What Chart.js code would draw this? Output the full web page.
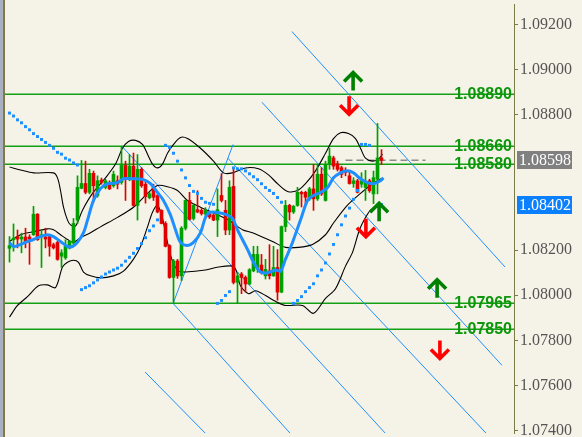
<!DOCTYPE html>
<html>
<head>
<meta charset="utf-8">
<script src="https://cdn.jsdelivr.net/npm/chart.js@4.4.1/dist/chart.umd.min.js"></script>
<style>
  html, body { margin: 0; padding: 0; background: #f5f3e7; }
  #wrap { width: 582px; height: 437px; }
</style>
</head>
<body>
<div id="wrap"><canvas id="chart" width="582" height="437"></canvas></div>
<script>
// candles, one per slot
const opens = [1.08208,1.08246,1.08260,1.08249,1.08258,1.08258,1.08268,1.08359,1.08260,1.08258,1.08260,1.08224,1.08234,1.08173,1.08166,1.08210,1.08231,1.08333,1.08474,1.08495,
  1.08456,1.08540,1.08442,1.08510,1.08478,1.08500,1.08485,1.08507,1.08500,1.08575,1.08514,1.08572,1.08398,1.08558,1.08492,1.08432,1.08478,1.08442,1.08376,1.08318,
  1.08220,1.08079,1.08152,1.08086,1.08297,1.08420,1.08340,1.08379,1.08376,1.08359,1.08362,1.08355,1.08333,1.08442,1.08376,1.08289,1.08482,1.08057,1.08094,1.08079,
  1.08050,1.08108,1.08123,1.08134,1.08086,1.08108,1.08086,1.08123,1.08014,1.08304,1.08398,1.08369,1.08398,1.08456,1.08456,1.08427,1.08471,1.08427,1.08536,1.08420,
  1.08579,1.08608,1.08582,1.08565,1.08553,1.08529,1.08495,1.08507,1.08492,1.08478,1.08507,1.08449,1.08514,1.08608]
const highs = [1.08260,1.08316,1.08289,1.08275,1.08297,1.08268,1.08394,1.08362,1.08289,1.08297,1.08268,1.08231,1.08239,1.08202,1.08246,1.08242,1.08340,1.08529,1.08597,1.08594,
  1.08558,1.08550,1.08529,1.08519,1.08514,1.08507,1.08550,1.08529,1.08659,1.08594,1.08623,1.08630,1.08623,1.08565,1.08507,1.08456,1.08492,1.08446,1.08379,1.08326,
  1.08224,1.08159,1.08159,1.08304,1.08423,1.08456,1.08405,1.08463,1.08384,1.08388,1.08369,1.08362,1.08471,1.08539,1.08420,1.08507,1.08558,1.08101,1.08101,1.08086,
  1.08118,1.08217,1.08217,1.08181,1.08159,1.08224,1.08217,1.08202,1.08307,1.08420,1.08403,1.08398,1.08478,1.08461,1.08461,1.08478,1.08579,1.08579,1.08565,1.08594,
  1.08652,1.08616,1.08594,1.08572,1.08565,1.08550,1.08521,1.08514,1.08543,1.08553,1.08514,1.08550,1.08761,1.08645]
const lows = [1.08147,1.08195,1.08210,1.08188,1.08210,1.08137,1.08265,1.08243,1.08123,1.08210,1.08173,1.08205,1.08155,1.08123,1.08159,1.08205,1.08224,1.08318,1.08471,1.08449,
  1.08449,1.08413,1.08434,1.08492,1.08471,1.08468,1.08478,1.08471,1.08492,1.08420,1.08507,1.08394,1.08333,1.08478,1.08408,1.08427,1.08420,1.08365,1.08316,1.08214,
  1.08075,1.07965,1.08075,1.08065,1.08289,1.08333,1.08333,1.08365,1.08355,1.08347,1.08340,1.08330,1.08260,1.08413,1.08268,1.08268,1.08050,1.07963,1.08007,1.08014,
  1.08046,1.08104,1.08101,1.08094,1.08072,1.08072,1.08084,1.07978,1.08011,1.08282,1.08333,1.08362,1.08394,1.08391,1.08405,1.08420,1.08376,1.08420,1.08442,1.08417,
  1.08558,1.08558,1.08550,1.08521,1.08529,1.08492,1.08478,1.08453,1.08478,1.08420,1.08456,1.08406,1.08449,1.08579]
const closes = [1.08220,1.08253,1.08249,1.08258,1.08239,1.08249,1.08359,1.08246,1.08268,1.08249,1.08217,1.08210,1.08159,1.08188,1.08217,1.08239,1.08318,1.08478,1.08495,1.08456,
  1.08540,1.08485,1.08507,1.08500,1.08507,1.08471,1.08536,1.08492,1.08575,1.08521,1.08572,1.08398,1.08558,1.08485,1.08437,1.08449,1.08434,1.08369,1.08318,1.08217,
  1.08079,1.08152,1.08086,1.08297,1.08420,1.08336,1.08398,1.08369,1.08362,1.08376,1.08347,1.08333,1.08379,1.08420,1.08289,1.08478,1.08057,1.08086,1.08079,1.08050,
  1.08113,1.08181,1.08181,1.08101,1.08115,1.08086,1.08123,1.08014,1.08304,1.08398,1.08369,1.08394,1.08456,1.08449,1.08434,1.08471,1.08427,1.08536,1.08449,1.08579,
  1.08616,1.08572,1.08558,1.08536,1.08543,1.08495,1.08507,1.08456,1.08507,1.08500,1.08463,1.08521,1.08608,1.08598]

// parabolic SAR, null where no dot
const sar = [1.08807,1.08794,1.08777,1.08764,1.08747,1.08733,1.08716,1.08703,1.08690,1.08677,1.08664,1.08651,1.08633,1.08625,1.08607,1.08599,1.08586,1.08577,
  1.08025,1.08034,1.08042,1.08055,1.08068,1.08081,1.08094,1.08103,1.08112,1.08120,1.08133,1.08151,1.08168,1.08186,1.08207,1.08229,1.08255,1.08286,1.08307,1.08334,
  null,
  1.08664,1.08655,1.08629,1.08594,1.08555,1.08520,1.08486,1.08460,1.08451,1.08429,1.08412,1.08407,1.08403,
  1.07964,1.07977,1.07999,1.08016,
  1.08564,1.08560,1.08560,1.08551,1.08538,1.08525,1.08512,1.08494,1.08477,1.08464,1.08451,1.08433,1.08412,
  null,null,
  1.07964,1.07977,1.07994,1.08016,1.08034,1.08051,1.08086,1.08112,1.08143,1.08183,1.08225,1.08268,1.08312,1.08351,1.08386,1.08425,1.08464,
  1.08668,1.08668,1.08664,
  null,
  1.08394,1.08402]

// bollinger bands and moving average, [slot, price]
const bbUpper = [[0,1.08568],[2.75,1.08555],[6,1.08542],[11,1.08542],[12,1.08520],[12.75,1.08464],[13.5,1.08390],[14.5,1.08333],[15.25,1.08312],[16.5,1.08307],
  [17.25,1.08333],[18.25,1.08377],[20.75,1.08451],[24,1.08520],[26.5,1.08581],[28.25,1.08651],[29.75,1.08681],[31.5,1.08686],[33.25,1.08668],[34.5,1.08625],
  [35.75,1.08581],[37,1.08564],[38.25,1.08581],[39.5,1.08629],[41,1.08668],[42.75,1.08699],[44.5,1.08694],[47.75,1.08651],[51,1.08594],[53.5,1.08542],
  [55.75,1.08542],[59,1.08564],[62.25,1.08560],[64.75,1.08533],[67.25,1.08490],[69.5,1.08460],[72,1.08464],[74,1.08494],[76.5,1.08551],[79,1.08629],
  [81,1.08694],[82.75,1.08720],[84.75,1.08716],[86.5,1.08694],[87.75,1.08651],[89,1.08607],[90.75,1.08594],[92.25,1.08603],[93.25,1.08625]]
const bbMiddle = [[0,1.08238],[2.75,1.08268],[6,1.08281],[9.5,1.08294],[11,1.08290],[12.75,1.08268],[14.5,1.08247],[16,1.08234],[17.75,1.08255],[20.25,1.08277],
  [22.75,1.08303],[27,1.08345],[31,1.08390],[34.5,1.08451],[37,1.08486],[39.5,1.08481],[42,1.08464],[44.5,1.08420],[47.75,1.08390],[51,1.08364],
  [54.75,1.08333],[58.25,1.08290],[60.75,1.08277],[65.75,1.08238],[69,1.08212],[72.25,1.08212],[75.75,1.08225],[79,1.08268],[81,1.08320],[84.5,1.08399],
  [87.75,1.08451],[90.75,1.08494],[93.25,1.08520]]
const bbLower = [[0,1.07903],[2,1.07955],[4.5,1.07994],[7.25,1.08042],[9.5,1.08046],[11.5,1.08034],[13.25,1.08125],[14.5,1.08146],[16,1.08155],[17.25,1.08146],
  [18.5,1.08103],[20.25,1.08086],[22.75,1.08077],[26,1.08086],[28.5,1.08107],[31,1.08160],[32.75,1.08216],[34.5,1.08303],[35.75,1.08368],[37,1.08399],
  [38.25,1.08341],[39.5,1.08234],[40.75,1.08151],[42.25,1.08107],[44,1.08103],[49,1.08112],[52.25,1.08125],[55.75,1.08129],[56.75,1.08107],[57.75,1.08042],
  [59.75,1.08007],[61.5,1.08020],[64,1.07999],[66.5,1.07973],[69,1.07955],[73.25,1.07955],[76,1.07920],[79,1.07986],[81.5,1.08029],[84,1.08129],
  [85.75,1.08190],[87.25,1.08277],[88.25,1.08320],[90.25,1.08377],[92.75,1.08407]]
const maLine = [[0,1.08234],[1,1.08216],[2.75,1.08225],[4.5,1.08238],[6,1.08247],[7.75,1.08260],[9.5,1.08268],[11,1.08260],[12.75,1.08238],[14.5,1.08216],
  [15.75,1.08216],[17,1.08234],[18.5,1.08277],[19.5,1.08333],[21,1.08420],[22.75,1.08473],[24.5,1.08494],[27,1.08499],[28.5,1.08516],[31,1.08516],
  [33.5,1.08512],[35.25,1.08494],[37,1.08455],[38.5,1.08420],[40.25,1.08355],[41.5,1.08290],[42.75,1.08234],[44.5,1.08220],[46,1.08234],[47.75,1.08277],
  [49,1.08345],[50.25,1.08368],[52.75,1.08364],[54.5,1.08355],[55.75,1.08341],[57,1.08290],[59.5,1.08203],[61,1.08146],[62.75,1.08103],[64.5,1.08099],
  [66.5,1.08112],[67.75,1.08107],[69,1.08160],[70.75,1.08234],[72.75,1.08333],[74.5,1.08420],[76,1.08442],[77.75,1.08455],[79.5,1.08477],[81,1.08520],
  [82.75,1.08542],[84.5,1.08551],[86,1.08542],[87.75,1.08516],[89.5,1.08499],[91,1.08494],[92.75,1.08507],[93.5,1.08520]]

// drawn objects
const channelLines = [
  [[70.6,1.09168],[123.9,1.08125]],
  [[63.1,1.08855],[123.1,1.07690]],
  [[54.6,1.08607],[119.1,1.07390]],
  [[28.1,1.08660],[93.9,1.07390]],
  [[40.9,1.07964],[55.9,1.08668]],
  [[40.9,1.07964],[70.1,1.07390]],
  [[33.9,1.07660],[48.9,1.07390]]
]
const levels = [1.08890, 1.08660, 1.08580, 1.07965, 1.07850]
const levelLabels = ['1.08890', '1.08660', '1.08580', '1.07965', '1.07850']
const arrowsUp = [[85.9,1.08947],[92.4,1.08368],[106.9,1.08029]]
const arrowsDown = [[84.9,1.08842],[89.1,1.08299],[107.6,1.07760]]
const bidPrice = 1.08598
const sarPrice = 1.08402
const yTicks = [1.074, 1.076, 1.078, 1.080, 1.082, 1.088, 1.090, 1.092]

const BG = '#f5f3e7'
const BULL = '#00a000'
const BEAR = '#e00000'
const BLUE = '#1e8fff'
const LEVEL = '#14a014'

const slots = closes.map((_, i) => i)
const candleColor = slots.map(i => closes[i] >= opens[i] ? BULL : BEAR)
const toXY = arr => arr.map(p => ({ x: p[0], y: p[1] }))

const datasets = [
  {
    type: 'line', data: toXY(maLine), borderColor: BLUE, borderWidth: 3,
    pointRadius: 0, tension: 0.3
  },
  {
    type: 'line', showLine: false,
    data: slots.filter(i => sar[i] !== null).map(i => ({ x: i, y: sar[i] })),
    pointStyle: 'rect', pointRadius: 2.1, pointBorderWidth: 0,
    pointBackgroundColor: BLUE
  },
  {
    type: 'bar', grouped: false, barThickness: 3, minBarLength: 1,
    data: slots.map(i => ({ x: i, y: [Math.min(opens[i], closes[i]), Math.max(opens[i], closes[i])] })),
    backgroundColor: candleColor, borderWidth: 0
  },
  {
    type: 'bar', grouped: false, barThickness: 1,
    data: slots.map(i => ({ x: i, y: [lows[i], highs[i]] })),
    backgroundColor: candleColor, borderWidth: 0
  }
]
;[bbUpper, bbMiddle, bbLower].forEach(band => {
  datasets.push({
    type: 'line', data: toXY(band), borderColor: '#000', borderWidth: 1.1,
    pointRadius: 0, tension: 0.3
  })
})
channelLines.forEach(seg => {
  datasets.push({
    type: 'line', data: toXY(seg), borderColor: BLUE, borderWidth: 1, pointRadius: 0
  })
})
levels.forEach(lv => {
  datasets.push({
    type: 'line', data: [{ x: -2, y: lv }, { x: 130, y: lv }],
    borderColor: LEVEL, borderWidth: 1.5, pointRadius: 0
  })
})
datasets.push({
  type: 'line', data: [{ x: 84, y: bidPrice }, { x: 104, y: bidPrice }],
  borderColor: '#8c8c8c', borderWidth: 1.5, borderDash: [7, 4], pointRadius: 0
})

const paintBack = {
  id: 'paintBack',
  beforeDraw(chart) {
    const c = chart.ctx
    c.save()
    c.fillStyle = BG
    c.fillRect(0, 0, chart.width, chart.height)
    c.fillStyle = '#aab0c0'
    c.fillRect(0, 0, 3, chart.height)
    c.fillStyle = '#7c7c48'
    c.fillRect(3, 0, 2, chart.height)
    c.restore()
  }
}

function drawArrow(c, x, y, up, color) {
  const h = 18, w = 9, dir = up ? 1 : -1
  const tip = y - dir * h / 2
  c.strokeStyle = color
  c.lineWidth = 3.6
  c.lineCap = 'butt'
  c.lineJoin = 'miter'
  c.beginPath()
  c.moveTo(x - w, tip + dir * w)
  c.lineTo(x, tip)
  c.lineTo(x + w, tip + dir * w)
  c.moveTo(x, tip)
  c.lineTo(x, tip + dir * h)
  c.stroke()
}

const overlays = {
  id: 'overlays',
  afterDraw(chart) {
    const c = chart.ctx
    const xs = chart.scales.x, ys = chart.scales.y
    c.save()
    // level labels
    c.font = 'bold 16px "Liberation Sans", Arial, sans-serif'
    c.textAlign = 'right'
    c.textBaseline = 'middle'
    c.fillStyle = '#0c960c'
    levels.forEach((lv, k) => {
      c.fillText(levelLabels[k], 512, ys.getPixelForValue(lv))
    })
    // arrows
    c.beginPath()
    c.rect(chart.chartArea.left, 0, chart.chartArea.right - chart.chartArea.left, chart.height)
    c.clip()
    arrowsUp.forEach(a => drawArrow(c, xs.getPixelForValue(a[0]), ys.getPixelForValue(a[1]), true, '#008000'))
    arrowsDown.forEach(a => drawArrow(c, xs.getPixelForValue(a[0]), ys.getPixelForValue(a[1]), false, '#ff0000'))
    c.restore()
    // price boxes on the axis
    c.save()
    c.font = '16px "Liberation Serif", "Times New Roman", serif'
    c.textAlign = 'left'
    c.textBaseline = 'middle'
    ;[[bidPrice, '#808080'], [sarPrice, '#0a80ff']].forEach(([p, col]) => {
      const y = ys.getPixelForValue(p)
      c.fillStyle = col
      c.fillRect(517, Math.round(y) - 9, 55, 18)
      c.fillStyle = '#ffffff'
      c.fillText(p.toFixed(5), 519, y + 1)
    })
    c.restore()
  }
}

new Chart(document.getElementById('chart'), {
  type: 'line',
  data: { datasets },
  plugins: [paintBack, overlays],
  options: {
    responsive: false,
    animation: false,
    devicePixelRatio: 1,
    layout: { padding: { left: 5, right: 0, top: 0, bottom: 0 } },
    plugins: { legend: { display: false }, tooltip: { enabled: false } },
    scales: {
      x: { type: 'linear', offset: false, min: -1.125, max: 126.125, display: false },
      y: {
        position: 'right',
        min: 1.07390,
        max: 1.09290,
        afterBuildTicks: s => { s.ticks = yTicks.map(v => ({ value: v })) },
        afterFit: s => { s.width = 68; s.paddingTop = 0; s.paddingBottom = 0 },
        border: { color: '#7c7c48', width: 1 },
        grid: { drawOnChartArea: false, tickLength: 4, color: '#7c7c48' },
        ticks: {
          padding: 2,
          color: '#555555',
          font: { family: '"Liberation Serif", "Times New Roman", serif', size: 16 },
          callback: v => v.toFixed(5)
        }
      }
    }
  }
})
</script>
</body>
</html>
